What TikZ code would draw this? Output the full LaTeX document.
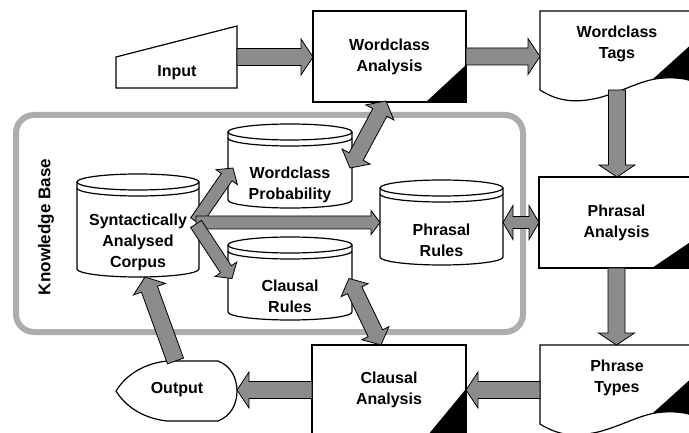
\documentclass[tikz,border=0pt]{standalone}
\usepackage{fontspec}
\newfontfamily\labfont{Liberation Sans}
\newfontfamily\kbfont{Liberation Sans}
\usetikzlibrary{calc}
\tikzset{
  shp/.style={draw=black, line width=1.2pt, fill=white},
  geo/.style={draw=none, inner sep=0pt, outer sep=0pt, rectangle},
  lab/.style={font=\labfont\bfseries\fontsize{16}{21}\selectfont, align=center, inner sep=0pt},
  box/.style={shp, lab, rectangle, outer sep=0pt},
  blk/.style={draw=black, line width=0.8pt, fill=black!45, line join=miter},
  kb/.style={draw=black!32, line width=6pt, rounded corners=18pt},
  kbt/.style={font=\kbfont\bfseries\fontsize{17}{20}\selectfont, inner sep=0pt},
}
% single block arrow: from, to, shaft half width, head half width, head length
\newcommand\barrow[5]{\draw[blk] let \p1=(#1), \p2=(#2),
  \n1={atan2(\y2-\y1,\x2-\x1)}, \n2={veclen(\x2-\x1,\y2-\y1)} in
  ($(\p1)+(\n1+90:#3)$) -- ($(\p1)+(\n1:\n2-#5)+(\n1+90:#3)$) --
  ($(\p1)+(\n1:\n2-#5)+(\n1+90:#4)$) -- (\p2) --
  ($(\p1)+(\n1:\n2-#5)+(\n1-90:#4)$) -- ($(\p1)+(\n1:\n2-#5)+(\n1-90:#3)$) --
  ($(\p1)+(\n1-90:#3)$) -- cycle;}
% double block arrow
\newcommand\dbarrow[5]{\draw[blk] let \p1=(#1), \p2=(#2),
  \n1={atan2(\y2-\y1,\x2-\x1)}, \n2={veclen(\x2-\x1,\y2-\y1)} in
  ($(\p1)+(\n1:#5)+(\n1+90:#3)$) -- ($(\p1)+(\n1:\n2-#5)+(\n1+90:#3)$) --
  ($(\p1)+(\n1:\n2-#5)+(\n1+90:#4)$) -- (\p2) --
  ($(\p1)+(\n1:\n2-#5)+(\n1-90:#4)$) -- ($(\p1)+(\n1:\n2-#5)+(\n1-90:#3)$) --
  ($(\p1)+(\n1:#5)+(\n1-90:#3)$) -- ($(\p1)+(\n1:#5)+(\n1-90:#4)$) -- (\p1) --
  ($(\p1)+(\n1:#5)+(\n1+90:#4)$) -- cycle;}
% database cylinder: name, x left, x right, y top, y bottom, text y, text
\newcommand\dbcyl[7]{%
  \node[geo, minimum width={#3-#2}, minimum height={#5-#4}] (#1) at ({(#2+#3)/2},{-(#4+#5)/2}) {};
  \draw[shp] (#1.north west) -- (#1.south west) arc[start angle=180, end angle=360, x radius={(#3-#2)/2}, y radius=8] -- (#1.north east);
  \draw[shp] (#1.north) ellipse[x radius={(#3-#2)/2}, y radius=8];
  \draw[shp, fill=none] ($(#1.north west)+(0,-6)$) arc[start angle=180, end angle=360, x radius={(#3-#2)/2}, y radius=8];
  \node[lab] (#1t) at ({(#2+#3)/2},-#6) {#7};
}
\begin{document}
\begin{tikzpicture}[x=1pt,y=1pt]
\useasboundingbox (0,0) rectangle (689,-433);
\clip (0,0) rectangle (689,-433);
\fill[white] (0,0) rectangle (689,-433);

% knowledge base frame
\draw[kb] (16,-115) rectangle (523,-332);
\node[kbt, rotate=90] (kb) at (46,-227) {Knowledge Base};

% Input
\node[geo, minimum width=121, minimum height=62] (inp) at (176.5,-57) {};
\draw[shp] (inp.south west) -- ++(0,31) -- (inp.north east) -- (inp.south east) -- cycle;
\node[lab] (inpt) at (177,-73) {Input};

% Wordclass Analysis
\node[box, minimum width=153, minimum height=91] (wa) at (389.5,-56.5) {Wordclass\\Analysis};
\fill (wa.south east) -- ++(-40,0) -- ($(wa.south east)+(0,37)$) -- cycle;

% Wordclass Tags (document)
\node[geo, minimum width=154, minimum height=79] (wt) at (617,-50.5) {};
\begin{scope}
\draw[shp] (694,-11) -- (540,-11) -- (540,-90) .. controls (556,-100) and (572,-104) .. (598,-98)
  .. controls (625,-91) and (642,-79) .. (664,-78) .. controls (680,-77) and (690,-80) .. (694,-82);
\fill (653,-79) -- (694,-42) -- (694,-82) .. controls (690,-80) and (680,-77) .. (664,-78) -- cycle;
\end{scope}
\node[lab] (wtt) at (617,-44) {Wordclass\\Tags};

% Phrasal Analysis
\node[box, minimum width=155, minimum height=91] (pa) at (616.5,-222.5) {Phrasal\\Analysis};
\fill (pa.south east) -- ++(-42,0) -- ($(pa.south east)+(0,28.4)$) -- cycle;

% Phrase Types (document)
\node[geo, minimum width=154, minimum height=79] (pt) at (617,-384.5) {};
\begin{scope}[yshift=-334]
\draw[shp] (694,-11) -- (540,-11) -- (540,-90) .. controls (556,-100) and (572,-104) .. (598,-98)
  .. controls (625,-91) and (642,-79) .. (664,-78) .. controls (680,-77) and (690,-80) .. (694,-82);
\fill (653,-79) -- (694,-42) -- (694,-82) .. controls (690,-80) and (680,-77) .. (664,-78) -- cycle;
\end{scope}
\node[lab] (ptt) at (617,-378) {Phrase\\Types};

% Clausal Analysis
\node[box, minimum width=154, minimum height=90] (ca) at (389,-390) {Clausal\\Analysis};
\fill (ca.south east) -- ++(-38,0) -- ($(ca.south east)+(0,46)$) -- cycle;

% Output
\node[geo, minimum width=121, minimum height=60] (out) at (176.5,-391) {};
\draw[shp] (167,-361) -- (218,-361) .. controls (231,-366) and (237,-378) .. (237,-391)
  .. controls (237,-404) and (231,-416) .. (218,-421) -- (167,-421)
  .. controls (140,-418) and (124,-404) .. (116,-391) .. controls (124,-378) and (140,-364) .. (167,-361) -- cycle;
\node[lab] (outt) at (177,-390) {Output};

% cylinders
\dbcyl{sac}{77}{199}{182}{269}{242}{Syntactically\\Analysed\\Corpus}
\dbcyl{wp}{228}{352}{132}{200}{185}{Wordclass\\Probability}
\dbcyl{cr}{228}{352}{245}{312}{296.5}{Clausal\\Rules}
\dbcyl{pr}{380}{503}{188}{257}{240.5}{Phrasal\\Rules}

% main flow arrows
\barrow{inp.east}{inp.east -| wa.west}{8.5}{18}{12}
\barrow{wa.east}{wa.east -| wt.west}{8.5}{18}{12}
\barrow{wt.south}{wt.south |- pa.north}{8.5}{18}{12}
\barrow{pa.south}{pa.south |- pt.north}{8.5}{18}{12}
\barrow{pt.west |- ca.east}{ca.east}{8.5}{18}{12}
\barrow{ca.west}{ca.west -| out.east}{8.5}{18}{12}
\barrow{$(out.north)+(-1,0)$}{$(sac.south)+(7,-8)$}{8.5}{17}{13}

% knowledge base arrows
\barrow{$(sac.east)+(-3,4)$}{$(wp.west)+(5,-2)$}{6.5}{13}{11}
\barrow{$(sac.east)+(-3,3)$}{pr.west}{6.5}{12}{9}
\barrow{$(sac.east)+(-3,1.5)$}{$(cr.west)+(4,0)$}{6.5}{13}{11}
\dbarrow{$(wp.east)+(-2,-2)$}{$(wa.south)+(-3.5,1)$}{8}{16}{13}
\dbarrow{$(cr.east)+(-3,0)$}{$(ca.north)+(-8,0)$}{8}{15}{13}
\dbarrow{pr.east}{pa.west}{6}{17}{10}
\end{tikzpicture}
\end{document}
